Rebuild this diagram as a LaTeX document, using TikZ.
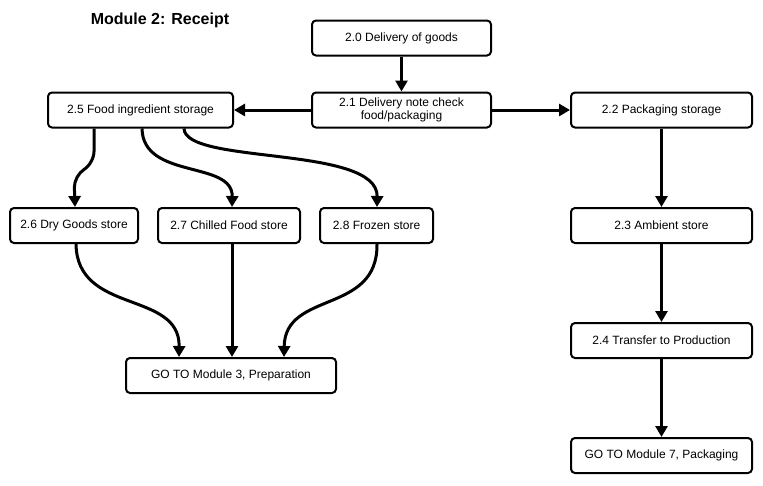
\documentclass[tikz,border=0pt]{standalone}
\usepackage{fontspec}
\setmainfont{Liberation Sans}
\usetikzlibrary{arrows.meta,calc}
\begin{document}
\begin{tikzpicture}[x=1pt,y=-1pt,
  box/.style={draw,line width=2pt,rounded corners=4pt,align=center,font=\fontsize{12}{13}\selectfont,inner sep=0pt,minimum height=35pt},
  arr/.style={line width=3pt,-{Triangle[length=11pt,width=12pt]}}]
\useasboundingbox (0,0) rectangle (763,485);
\node[font=\bfseries\fontsize{16}{18}\selectfont] (title) at (160,20) {Module 2: Receipt};
\node[box,minimum width=179pt] (n20) at (401.5,38) {2.0 Delivery of goods};
\node[box,minimum width=179pt] (n21) at (401.5,110) {2.1 Delivery note check\\food/packaging};
\node[box,minimum width=185pt] (n25) at (140.5,110) {2.5 Food ingredient storage};
\node[box,minimum width=181pt] (n22) at (661.5,110) {2.2 Packaging storage};
\node[box,minimum width=128pt] (n26) at (74,225.5) {2.6 Dry Goods store};
\node[box,minimum width=142pt] (n27) at (229,225.5) {2.7 Chilled Food store};
\node[box,minimum width=113pt] (n28) at (376.5,225.5) {2.8 Frozen store};
\node[box,minimum width=181pt] (n23) at (661.5,225.5) {2.3 Ambient store};
\node[box,minimum width=181pt] (n24) at (661.5,340.5) {2.4 Transfer to Production};
\node[box,minimum width=210pt] (g3) at (231,375.5) {GO TO Module 3, Preparation};
\node[box,minimum width=181pt] (g7) at (661.5,455.5) {GO TO Module 7, Packaging};
\draw[arr] (n20) -- (n21);
\draw[arr] (n21) -- (n25);
\draw[arr] (n21) -- (n22);
\draw[arr] (n22) -- (n23);
\draw[arr] (n23) -- (n24);
\draw[arr] (n24) -- (g7);
\draw[arr,rounded corners=12pt] ($(n25.south west)+(47,0)$) -- ++(0,35) -- ++(-20,12) -- (n26.north -| 75,0);
\draw[arr] ($(n25.south west)+(95,0)$) .. controls (143,180) and (233,160) .. ($(n27.north west)+(75,0)$);
\draw[arr] ($(n25.south west)+(137,0)$) .. controls (185,165) and (378,145) .. ($(n28.north west)+(58,0)$);
\draw[arr] ($(n26.south west)+(67,0)$) .. controls (77,315) and (180,290) .. ($(g3.north west)+(54,0)$);
\draw[arr] ($(n27.south west)+(75,0)$) -- ($(g3.north west)+(107,0)$);
\draw[arr] ($(n28.south west)+(58,0)$) .. controls (378,315) and (285,290) .. ($(g3.north west)+(159,0)$);
\end{tikzpicture}
\end{document}
